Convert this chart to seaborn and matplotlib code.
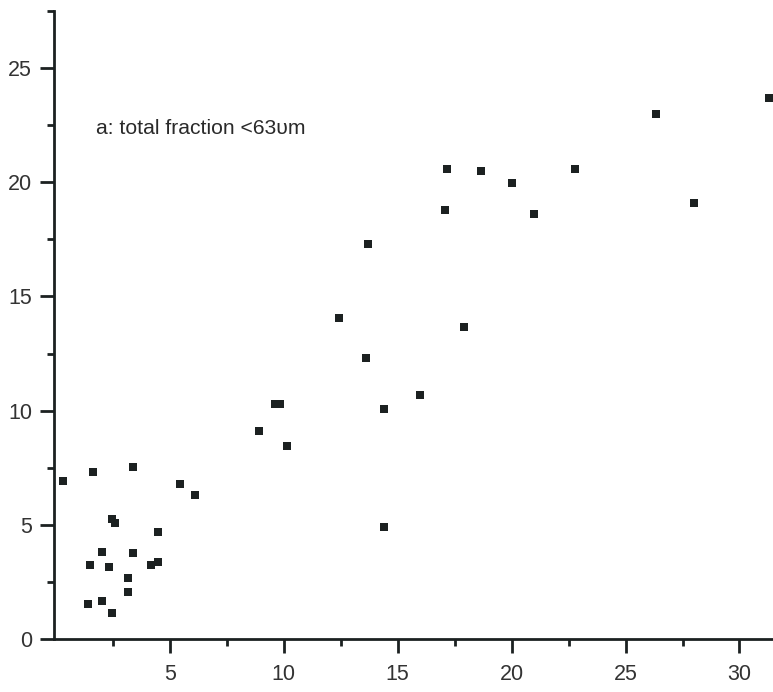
import matplotlib
matplotlib.use("Agg")
import matplotlib.pyplot as plt
from matplotlib.ticker import FixedLocator
import seaborn as sns
import pandas as pd

# Sample measurements (x, y) for the total fraction below 63 um
x_vals = [0.3, 1.65, 3.4, 5.45, 6.1, 2.45, 2.6, 4.5, 2.05, 3.4,
          1.5, 2.35, 4.2, 4.5, 3.15, 3.15, 1.4, 2.05, 2.45, 8.9,
          9.6, 9.85, 10.15, 14.4, 14.4, 16.0, 12.45, 13.6, 13.7, 17.9,
          17.1, 17.15, 18.65, 20.0, 22.8, 21.0, 26.35, 28.0, 31.3]
y_vals = [6.9, 7.3, 7.55, 6.8, 6.3, 5.25, 5.1, 4.7, 3.8, 3.75,
          3.25, 3.15, 3.25, 3.35, 2.65, 2.05, 1.55, 1.65, 1.15, 9.1,
          10.3, 10.3, 8.45, 10.05, 4.9, 10.7, 14.05, 12.3, 17.3, 13.65,
          18.8, 20.6, 20.5, 19.95, 20.6, 18.6, 23.0, 19.1, 23.7]
x_ticks = [5, 10, 15, 20, 25, 30]
y_ticks = [0, 5, 10, 15, 20, 25]
x_minor = [2.5, 7.5, 12.5, 17.5, 22.5, 27.5]
y_minor = [2.5, 7.5, 12.5, 17.5, 22.5, 27.5]
panel_label = "a: total fraction <63\u03c5m"

df = pd.DataFrame({"x": x_vals, "y": y_vals})

sns.set_style("ticks")
plt.rcParams["font.family"] = ["Liberation Sans", "DejaVu Sans"]

fig = plt.figure(figsize=(7.73, 6.92), dpi=100)
ax = fig.add_axes([0.070, 0.0766, 0.93, 0.9075])

ink = "#1c2121"
sns.scatterplot(data=df, x="x", y="y", marker="s", s=36, color=ink,
                edgecolor=ink, linewidth=0, ax=ax, legend=False)

ax.set_xlim(-0.07, 31.47)
ax.set_ylim(0, 27.5)
ax.set_xticks(x_ticks)
ax.set_yticks(y_ticks)
ax.xaxis.set_minor_locator(FixedLocator(x_minor))
ax.yaxis.set_minor_locator(FixedLocator(y_minor))
ax.set_xlabel("")
ax.set_ylabel("")

for side in ("top", "right"):
    ax.spines[side].set_visible(False)
for side in ("left", "bottom"):
    ax.spines[side].set_linewidth(2.0)
    ax.spines[side].set_color(ink)

ax.tick_params(which="major", direction="out", length=10, width=2,
               color=ink, labelsize=15.5, labelcolor="#333333")
ax.tick_params(axis="x", which="major", pad=8)
ax.tick_params(axis="y", which="major", pad=6)
ax.tick_params(which="minor", direction="out", length=5, width=2, color=ink)

ax.text(1.75, 22.35, panel_label, fontsize=15.2, color="#2a2a2a",
        ha="left", va="center")

fig.savefig("out.png", dpi=100)
